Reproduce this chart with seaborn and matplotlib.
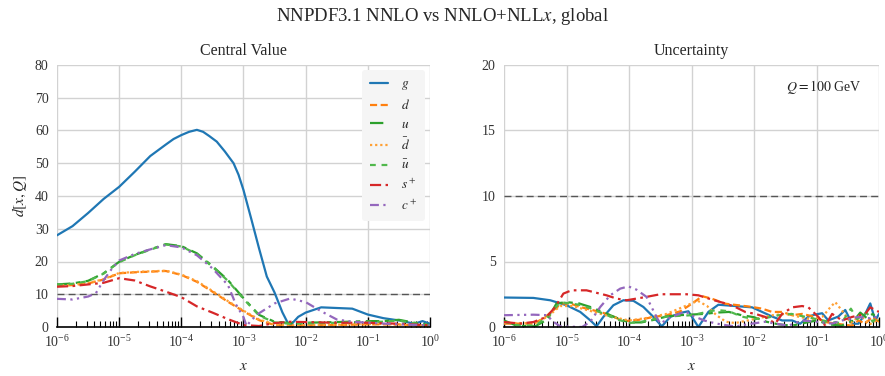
import numpy as np
import pandas as pd
import matplotlib
matplotlib.use("Agg")
import matplotlib.pyplot as plt
import seaborn as sns

# ---------------- data (x given as log10 x) ----------------
# Central value panel
cv_g_lx = [-6, -5.75, -5.5, -5.25, -5, -4.75, -4.5, -4.25, -4.125, -4, -3.875, -3.75, -3.65,
           -3.55, -3.43, -3.3, -3.16, -3.08, -3, -2.875, -2.75,
           -2.625, -2.5, -2.375, -2.26, -2.12, -2, -1.75, -1.5, -1.25, -1, -0.75, -0.5, -0.25,
           -0.12, 0]
cv_g = [28, 30.8, 34.8, 39.1, 42.8, 47.4, 52.2, 55.7, 57.4, 58.6, 59.6, 60.2, 59.6,
        58.3, 56.6, 53.6, 50.0, 46.5, 41.8, 33, 24,
        15.4, 10.5, 4.5, 0.2, 3.1, 4.4, 6.0, 5.8, 5.6, 3.8, 2.7, 2.0, 1.0,
        1.8, 1.0]

cv_q_lx = [-6, -5.75, -5.5, -5.25, -5, -4.75, -4.5, -4.25, -4, -3.75, -3.5, -3.25, -3, -2.75,
           -2.5, -2.25, -2, -1.5, -1, -0.75, -0.5, -0.25, 0]
cv_d = [12.5, 12.8, 13.3, 14.5, 16.4, 16.7, 16.9, 17.1, 15.9, 13.8, 10.8, 7.7, 4.8, 2.1,
        0.6, 0.4, 0.5, 0.6, 0.8, 0.8, 0.8, 0.5, 0.3]
cv_u = [13.0, 13.3, 14.1, 16.4, 19.9, 22.0, 23.7, 25.3, 24.7, 22.5, 18.6, 14.3, 8.8, 3.7,
        1.6, 1.2, 1.3, 1.5, 1.8, 1.8, 2.2, 1.3, 0.6]
cv_dbar = [12.6, 12.9, 13.4, 14.6, 16.5, 16.8, 17.0, 17.2, 16.0, 14.0, 11.0, 7.9, 5.0, 2.3,
           0.8, 0.5, 0.6, 0.7, 0.9, 0.9, 0.7, 0.4, 0.4]
cv_ubar = [12.9, 13.2, 14.0, 16.3, 19.8, 21.9, 23.6, 25.2, 24.6, 22.3, 18.4, 14.1, 8.6, 3.5,
           1.4, 1.0, 1.1, 1.3, 1.6, 1.6, 2.0, 1.1, 0.5]

cv_s_lx = [-6, -5.75, -5.5, -5.25, -5, -4.75, -4.5, -4.25, -4, -3.75, -3.5, -3.25, -3, -2.75,
           -2.5, -2.25, -2, -1.5, -1, -0.5, 0]
cv_s = [12.3, 12.5, 13.0, 13.5, 14.9, 14.2, 12.4, 10.8, 9.1, 6.3, 4.4, 2.4, 0.6, 0.3,
        1.2, 1.6, 1.5, 1.3, 1.3, 1.0, 0.5]

cv_c_lx = [-6, -5.75, -5.5, -5.375, -5.25, -5.125, -5, -4.75, -4.5, -4.25, -4, -3.75, -3.5, -3.25,
           -3.125, -3, -2.95, -2.875, -2.75, -2.5, -2.25, -2, -1.75, -1.5, -1.25, -1, -0.5, 0]
cv_c = [8.6, 8.4, 9.3, 10.3, 14.3, 17.6, 20.3, 22.3, 23.7, 25.0, 24.3, 21.9, 17.9, 12.8,
        7.0, 3.0, 0.3, 2.1, 4.2, 7.2, 8.7, 7.6, 4.8, 2.3, 1.6, 1.3, 0.8, 0.5]

# Uncertainty panel
un_g_lx = [-6, -5.53, -5.26, -5.0, -4.78, -4.62, -4.52, -4.41, -4.25, -4.09, -3.93, -3.77, -3.61,
           -3.475, -3.34, -3.18, -3.05, -2.89, -2.73, -2.57, -2.3, -2.03, -1.87, -1.71, -1.55,
           -1.39, -1.26, -1.13, -1.02, -0.91, -0.81, -0.65, -0.54, -0.43, -0.33, -0.22, -0.14,
           -0.06, 0]
un_g = [2.25, 2.22, 2.04, 1.66, 1.15, 0.51, 0.05, 0.77, 1.66, 2.04, 2.0, 1.53, 0.77,
        0.05, 0.77, 1.07, 1.2, 0.0, 1.15, 1.7, 1.6, 1.5, 1.15, 0.8, 0.5,
        0.5, 0.25, 0.8, 0.95, 1.05, 0.5, 0.8, 1.3, 0.25, 0.25, 1.0, 1.8,
        0.5, 1.0]

un_d_lx = [-6, -5.53, -5.37, -5.21, -5.08, -4.94, -4.78, -4.62, -4.46, -4.3, -4.14, -4.04, -3.82,
           -3.61, -3.4, -3.18, -3.05, -2.9, -2.83, -2.68, -2.46, -2.25, -2.03, -1.87, -1.71,
           -1.55, -1.39, -1.23, -1.02, -0.86, -0.7, -0.43, -0.33, -0.22, -0.11, 0]
un_d = [0.26, 0.26, 0.64, 1.28, 1.79, 1.79, 1.53, 1.33, 1.15, 0.9, 0.56, 0.46, 0.56,
        0.77, 0.9, 1.2, 1.6, 2.1, 2.35, 2.17, 1.78, 1.66, 1.53, 1.4, 1.15,
        1.15, 0.9, 1.0, 0.77, 0.38, 0.26, 0.1, 0.5, 0.26, 0.77, 0.4]

un_dbar_lx = [-6, -5.5, -5.3, -5.1, -4.9, -4.6, -4.3, -4.0, -3.7, -3.4, -3.1, -2.9, -2.75, -2.6,
              -2.45, -2.3, -2.1, -1.9, -1.7, -1.5, -1.3, -1.1, -0.9, -0.78, -0.7, -0.6, -0.45,
              -0.3, -0.15, 0]
un_dbar = [0.3, 0.3, 0.8, 1.6, 1.6, 1.2, 0.8, 0.5, 0.7, 1.0, 1.6, 2.0, 1.6, 0.9,
           0.4, 0.3, 0.5, 0.7, 0.9, 1.0, 0.8, 0.6, 0.8, 1.5, 1.9, 1.3, 0.3,
           0.9, 0.2, 0.6]

un_u_lx = [-6, -5.8, -5.5, -5.3, -5.16, -5.0, -4.8, -4.6, -4.4, -4.2, -4.0, -3.8, -3.6, -3.4,
           -3.2, -3.0, -2.8, -2.6, -2.4, -2.2, -2.0, -1.8, -1.6, -1.4, -1.2, -1.0, -0.8, -0.6,
           -0.4, -0.3, -0.2, -0.1, 0]
un_u = [0.5, 0.1, 0.05, 0.6, 1.8, 1.9, 1.8, 1.5, 1.1, 0.7, 0.35, 0.35, 0.55, 0.8,
        0.9, 0.95, 1.0, 1.1, 1.15, 0.9, 0.75, 0.4, 0.2, 0.1, 0.3, 0.5, 0.2, 0.1,
        0.5, 1.1, 0.7, 1.0, 0.5]

un_ubar_lx = [-6, -5.8, -5.5, -5.3, -5.1, -4.95, -4.8, -4.6, -4.4, -4.2, -4.0, -3.8, -3.6, -3.4,
              -3.2, -3.0, -2.8, -2.6, -2.4, -2.2, -2.0, -1.8, -1.6, -1.4, -1.2, -1.0, -0.8,
              -0.6, -0.45, -0.35, -0.2, -0.1, 0]
un_ubar = [0.4, 0.15, 0.1, 0.8, 1.9, 1.8, 1.7, 1.4, 1.0, 0.6, 0.3, 0.4, 0.6, 0.8,
           0.85, 0.9, 1.1, 1.3, 1.2, 0.8, 0.6, 0.7, 0.9, 1.0, 0.8, 0.6, 0.4,
           0.3, 1.4, 0.6, 1.1, 0.4, 0.9]

un_s_lx = [-6, -5.74, -5.53, -5.32, -5.18, -5.05, -4.92, -4.68, -4.36, -4.2, -4.04, -3.88, -3.72,
           -3.5, -3.18, -3.08, -2.89, -2.68, -2.46, -2.3, -2.14, -1.98, -1.82, -1.66, -1.55,
           -1.39, -1.23, -1.13, -0.97, -0.86, -0.75, -0.59, -0.43, -0.22, -0.14, 0]
un_s = [0.38, 0.26, 0.38, 0.77, 1.53, 2.55, 2.8, 2.8, 2.42, 2.17, 2.04, 2.17, 2.3,
        2.5, 2.5, 2.5, 2.42, 2.1, 1.8, 1.53, 1.15, 1.0, 0.77, 0.26, 1.0,
        1.5, 1.6, 1.5, 0.77, 0.1, 1.0, 0.5, 0.77, 1.0, 1.5, 1.15]

un_c_lx = [-6, -5.53, -5.3, -5.24, -5.1, -4.75, -4.62, -4.46, -4.3, -4.14, -4.01, -3.88, -3.72,
           -3.64, -3.56, -3.5, -3.35, -3.1, -3.0, -2.8, -2.6, -2.4, -2.3, -2.03, -1.82, -1.66,
           -1.45, -1.23, -0.97, -0.75, -0.59, -0.33, -0.1, 0]
un_c = [0.9, 0.94, 0.9, 0.5, 0.05, 0.0, 0.4, 1.53, 2.42, 2.93, 3.1, 2.85, 2.3,
        1.53, 0.77, 0.26, 0.7, 1.2, 0.9, 0.5, 0.26, 0.1, 0.05, 0.26, 0.4, 0.26,
        0.1, 0.5, 0.38, 0.26, 0.5, 0.77, 0.64, 0.9]

labels = ["$g$", "$d$", "$u$", r"$\bar{d}$", r"$\bar{u}$", "$s^+$", "$c^+$"]
colors = ["#1f77b4", "#ff7f0e", "#2ca02c", "#ffa033", "#50b84c", "#d62728", "#9467bd"]
styles = ["-", (0, (3.2, 1.6)), (0, (6, 2.5, 2, 2.5)), (0, (1, 1.3)), (0, (2.6, 2.6)),
          (0, (5, 2, 1.2, 2)), (0, (4, 2, 1, 2, 1, 2))]

cv_series = [(cv_g_lx, cv_g), (cv_q_lx, cv_d), (cv_q_lx, cv_u), (cv_q_lx, cv_dbar),
             (cv_q_lx, cv_ubar), (cv_s_lx, cv_s), (cv_c_lx, cv_c)]
un_series = [(un_g_lx, un_g), (un_d_lx, un_d), (un_u_lx, un_u), (un_dbar_lx, un_dbar),
             (un_ubar_lx, un_ubar), (un_s_lx, un_s), (un_c_lx, un_c)]

# ---------------- style ----------------
sns.set_theme(style="whitegrid")
plt.rcParams["font.family"] = ["Liberation Serif", "DejaVu Serif"]
plt.rcParams["mathtext.fontset"] = "stix"
plt.rcParams["grid.color"] = "#d2d2d2"
plt.rcParams["grid.linewidth"] = 1.0
plt.rcParams["axes.edgecolor"] = "#d2d2d2"

fig = plt.figure(figsize=(8.85, 3.76), dpi=100)
ax1 = fig.add_axes([57 / 885, 1 - 327 / 376, 373 / 885, 262 / 376])
ax2 = fig.add_axes([504 / 885, 1 - 327 / 376, 375 / 885, 262 / 376])

for ax, series in ((ax1, cv_series), (ax2, un_series)):
    for (lx, vals), lab, col, ls in zip(series, labels, colors, styles):
        df = pd.DataFrame({"x": np.power(10.0, lx), "v": vals})
        sns.lineplot(data=df, x="x", y="v", ax=ax, color=col, linestyle=ls,
                     linewidth=1.6, label=lab, sort=True, estimator=None)
    ax.axhline(10, color="#555555", linestyle=(0, (5, 3)), linewidth=1.0, zorder=1)
    ax.set_xscale("log")
    ax.set_xlim(1e-6, 1)
    ax.set_xlabel("$x$", fontsize=11, labelpad=7)
    ax.set_ylabel("")
    ax.tick_params(axis="x", which="major", direction="in", length=7, width=1.0,
                   color="black", labelsize=10, pad=5, bottom=True)
    ax.tick_params(axis="x", which="minor", direction="in", length=4, width=0.8,
                   color="black", bottom=True)
    ax.tick_params(axis="y", labelsize=10, length=0, pad=6)
    ax.spines["bottom"].set_color("black")
    ax.spines["bottom"].set_linewidth(1.2)
    for sp in ("left", "right", "top"):
        ax.spines[sp].set_visible(False)
    ax.grid(True, which="major", axis="both")
    ax.grid(False, which="minor")
    for lbl in ax.get_xticklabels() + ax.get_yticklabels():
        lbl.set_color("#333333")

ax1.set_ylim(0, 80)
ax1.set_yticks(np.arange(0, 81, 10))
ax2.set_ylim(0, 20)
ax2.set_yticks(np.arange(0, 21, 5))
ax2.get_legend().remove()

ax1.set_ylabel("$d[x,Q]$", fontsize=11)
ax1.set_title("Central Value", fontsize=11.5, pad=7)
ax2.set_title("Uncertainty", fontsize=11.5, pad=7)
ax2.text(0.955, 0.915, "$Q = 100$ GeV", transform=ax2.transAxes, ha="right", va="center",
         fontsize=10)

leg = ax1.legend(loc="upper right", fontsize=9.5, frameon=True, facecolor="#f5f5f5",
                 edgecolor="none", framealpha=1.0, handlelength=1.35, handletextpad=1.0,
                 labelspacing=0.45, borderaxespad=0.4, borderpad=0.6)

fig.suptitle("NNPDF3.1 NNLO vs NNLO+NLL$x$, global", fontsize=13.5, y=0.985)
fig.savefig("out.png", dpi=100)
